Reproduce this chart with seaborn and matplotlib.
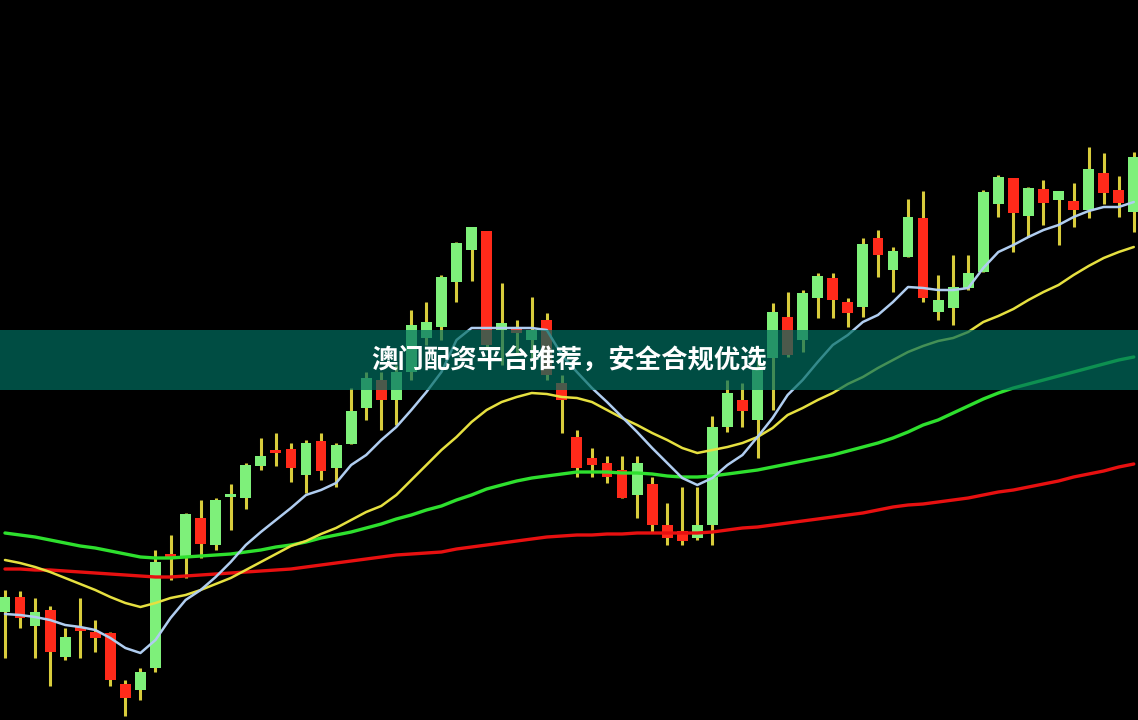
import numpy as np
import pandas as pd
import matplotlib
matplotlib.use("Agg")
import matplotlib.pyplot as plt
import seaborn as sns

# --- candle data (arbitrary price units) ---
opens = [123, 102, 108, 68, 83, 89, 82, 40, 22, 48,
         158, 163, 206, 176, 220, 226, 255, 264, 267, 252,
         277, 249, 275, 309, 342, 320, 348, 395, 398, 443,
         477, 493, 375, 397, 387, 390, 345, 320, 252, 255,
         243, 222, 257, 195, 182, 179, 195, 293, 327, 309,
         353, 408, 365, 427, 444, 420, 407, 476, 465, 469,
         503, 422, 420, 433, 447, 528, 543, 507, 532, 517,
         529, 510, 551, 527, 517, 563]
closes = [108, 123, 94, 110, 63, 93, 88, 87, 36, 30,
          52, 165, 162, 202, 175, 223, 222, 254, 269, 271,
          245, 279, 252, 276, 312, 340, 320, 348, 382, 393,
          438, 470, 489, 390, 393, 380, 400, 337, 283, 262,
          257, 250, 225, 236, 195, 189, 182, 195, 293, 320,
          300, 362, 403, 380, 422, 442, 418, 413, 482, 450,
          463, 502, 408, 412, 432, 448, 516, 542, 504, 531,
          520, 519, 510, 547, 530, 508]
highs = [130, 129, 122, 114, 92, 122, 100, 88, 40, 52,
         170, 185, 207, 220, 222, 236, 257, 282, 287, 277,
         280, 287, 277, 332, 348, 348, 355, 410, 418, 445,
         478, 493, 489, 437, 400, 423, 407, 345, 290, 272,
         264, 264, 264, 243, 217, 233, 233, 304, 340, 337,
         360, 417, 428, 430, 447, 447, 422, 482, 490, 473,
         521, 529, 445, 465, 465, 530, 545, 542, 533, 540,
         529, 537, 573, 567, 544, 568]
lows = [62, 92, 62, 34, 60, 62, 68, 34, 4, 20,
        48, 140, 142, 162, 170, 190, 211, 250, 254, 238,
        227, 240, 233, 276, 300, 290, 295, 340, 375, 380,
        418, 439, 370, 355, 365, 360, 340, 287, 243, 243,
        237, 222, 202, 188, 175, 175, 180, 175, 288, 293,
        262, 310, 363, 368, 402, 402, 393, 403, 443, 428,
        463, 418, 400, 395, 430, 448, 503, 468, 483, 495,
        475, 493, 502, 516, 503, 488]

# --- moving averages ---
ma_fast = [106, 105, 103, 100, 95, 93, 90, 82, 72, 67,
           80, 102, 120, 130, 143, 158, 175, 188, 200, 212,
           225, 230, 237, 255, 265, 280, 293, 310, 328, 348,
           380, 392, 392, 392, 392, 392, 390, 365, 348, 332,
           318, 303, 288, 272, 257, 242, 235, 242, 255, 265,
           283, 302, 325, 340, 358, 375, 385, 398, 405, 418,
           433, 432, 430, 430, 432, 452, 468, 475, 483, 490,
           495, 503, 509, 513, 513, 518]
ma_10 = [160, 157, 153, 148, 142, 136, 130, 123, 117, 113,
         117, 122, 125, 130, 136, 142, 150, 158, 166, 174,
         179, 186, 192, 200, 208, 214, 225, 240, 255, 270,
         283, 298, 310, 318, 323, 327, 326, 323, 322, 318,
         310, 302, 295, 287, 280, 272, 267, 270, 273, 277,
         283, 292, 305, 312, 320, 327, 336, 343, 352, 360,
         368, 374, 379, 382, 388, 398, 404, 411, 420, 428,
         435, 445, 454, 462, 468, 473]
ma_30 = [187, 185, 183, 180, 177, 174, 172, 169, 166, 163,
         162, 162, 163, 164, 165, 166, 168, 170, 173, 175,
         178, 182, 185, 188, 192, 196, 201, 205, 210, 214,
         220, 225, 231, 235, 239, 242, 244, 246, 248, 248,
         248, 247, 247, 246, 244, 243, 243, 244, 246, 248,
         250, 253, 256, 259, 262, 265, 269, 273, 277, 282,
         288, 295, 300, 307, 314, 321, 327, 332, 336, 340,
         344, 348, 352, 356, 360, 363]
ma_60 = [151, 151, 150, 150, 149, 148, 147, 146, 145, 144,
         143, 143, 144, 145, 146, 147, 148, 149, 150, 151,
         153, 155, 157, 159, 161, 163, 165, 166, 167, 168,
         171, 173, 175, 177, 179, 181, 183, 184, 185, 185,
         186, 186, 187, 187, 187, 187, 187, 188, 190, 192,
         193, 195, 197, 199, 201, 203, 205, 207, 210, 213,
         215, 216, 218, 220, 222, 225, 228, 230, 233, 236,
         239, 243, 246, 249, 253, 256]

title = "澳门配资平台推荐，安全合规优选"

df = pd.DataFrame({"open": opens, "close": closes, "high": highs, "low": lows})
df["idx"] = np.arange(len(df))
up = df["close"] >= df["open"]

sns.set_style("dark", {"axes.facecolor": "black", "figure.facecolor": "black"})
plt.rcParams["font.family"] = ["Noto Sans CJK SC", "DejaVu Sans"]

fig = plt.figure(figsize=(11.38, 7.2), dpi=100)
ax = fig.add_axes([0, 0, 1, 1])
ax.set_facecolor("black")

# wicks
ax.vlines(df["idx"], df["low"], df["high"], color="#d8cc3c", linewidth=2.2, zorder=2)

# bodies
body_lo = df[["open", "close"]].min(axis=1)
body_h = (df["close"] - df["open"]).abs().clip(lower=3)
ax.bar(df["idx"][up], body_h[up], bottom=body_lo[up], width=0.72,
       color="#ff2a1a", edgecolor="none", zorder=3)
ax.bar(df["idx"][~up], body_h[~up], bottom=body_lo[~up], width=0.72,
       color="#7ef07a", edgecolor="none", zorder=3)

# moving averages
sns.lineplot(x=df["idx"], y=ma_60, color="#e81010", linewidth=2.4, ax=ax, zorder=4)
sns.lineplot(x=df["idx"], y=ma_30, color="#2ee02e", linewidth=2.4, ax=ax, zorder=4)
sns.lineplot(x=df["idx"], y=ma_10, color="#e6e040", linewidth=1.8, ax=ax, zorder=4)
sns.lineplot(x=df["idx"], y=ma_fast, color="#b0cdf0", linewidth=1.8, ax=ax, zorder=5)

ax.set_xlim(-0.33, 75.28)
ax.set_ylim(0, 720)
ax.set_xticks([])
ax.set_yticks([])
ax.set_xlabel("")
ax.set_ylabel("")
for s in ax.spines.values():
    s.set_visible(False)

# banner
ax.axhspan(330, 390, color="#006e60", alpha=0.7, zorder=6, linewidth=0)
ax.text(0.5, 0.5, title, transform=ax.transAxes, ha="center", va="center",
        color="white", fontsize=19, fontweight="bold", zorder=7)

fig.savefig("out.png", dpi=100, facecolor="black")
